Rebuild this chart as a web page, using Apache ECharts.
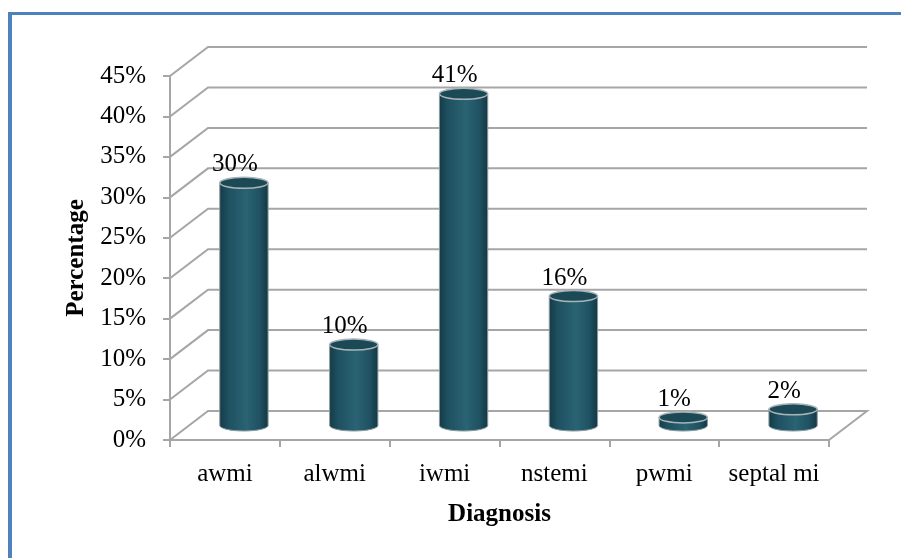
<!DOCTYPE html>
<html>
<head>
<meta charset="utf-8">
<script src="https://cdn.jsdelivr.net/npm/echarts@6/dist/echarts.min.js"></script>
<style>
  html, body { margin: 0; padding: 0; background: #ffffff; }
  #chart { width: 901px; height: 558px; }
</style>
</head>
<body>
<div id="chart"></div>
<script>
// Diagnosis breakdown (percent of patients)
const categories = ['awmi', 'alwmi', 'iwmi', 'nstemi', 'pwmi', 'septal mi'];
const percentages = [30, 10, 41, 16, 1, 2];
const yTicks = [0, 5, 10, 15, 20, 25, 30, 35, 40, 45];

// Pseudo-3D depth of the plot box (back wall offset from the front plane)
const DX = 38, DY = -29;
const FONT = '"Liberation Serif", "Times New Roman", serif';
const FONT_SIZE = 25;
const GRID_COLOR = '#a6a6a6';

const chart = echarts.init(document.getElementById('chart'), null, { renderer: 'canvas' });

// Side wall + back wall gridlines, plus the floor edge for 0
function renderWall(params, api) {
  const v = api.value(1);
  const cs = params.coordSys;
  const y = api.coord([0, v])[1];
  const x0 = cs.x, x1 = cs.x + cs.width;
  const pts = [[x0, y], [x0 + DX, y + DY], [x1 + DX, y + DY]];
  if (v === 0) pts.push([x1, y]);
  return {
    type: 'polyline',
    silent: true,
    shape: { points: pts },
    style: { stroke: GRID_COLOR, lineWidth: 2, fill: null }
  };
}

const bodyGradient = {
  type: 'linear', x: 0, y: 0, x2: 1, y2: 0,
  colorStops: [
    { offset: 0, color: '#143a46' },
    { offset: 0.18, color: '#1e5060' },
    { offset: 0.55, color: '#2a6373' },
    { offset: 0.82, color: '#1f5262' },
    { offset: 1, color: '#133642' }
  ]
};

// Cylinders sit halfway into the depth of the plot box
function renderCylinder(params, api) {
  const idx = api.value(0), v = api.value(1);
  const top = api.coord([idx, v]);
  const base = api.coord([idx, 0]);
  const bandW = api.size([1, 0])[0];
  const rx = bandW * 0.22, ry = 5.5;
  const cx = top[0] + DX / 2;
  const yT = top[1] + DY / 2, yB = base[1] + DY / 2;
  const body = 'M' + (cx - rx) + ',' + yT +
    ' L' + (cx - rx) + ',' + yB +
    ' A' + rx + ',' + ry + ' 0 0 0 ' + (cx + rx) + ',' + yB +
    ' L' + (cx + rx) + ',' + yT + ' Z';
  return {
    type: 'group',
    children: [
      { type: 'path', shape: { pathData: body },
        style: { fill: bodyGradient, stroke: '#8d9ba0', lineWidth: 1 } },
      { type: 'ellipse', shape: { cx: cx, cy: yT, rx: rx, ry: ry },
        style: { fill: '#1b4956', stroke: '#a9b4b8', lineWidth: 1.5 } },
      { type: 'text', x: cx - 9, y: yT - 18,
        style: { text: v + '%', fill: '#000', font: FONT_SIZE + 'px ' + FONT,
                 align: 'center', verticalAlign: 'middle' } }
    ]
  };
}

const option = {
  backgroundColor: '#ffffff',
  animation: false,
  grid: { left: 170, right: 72, top: 76, bottom: 118, containLabel: false },
  xAxis: {
    type: 'category',
    data: categories,
    axisLine: { show: true, lineStyle: { color: GRID_COLOR, width: 2 } },
    axisTick: { show: true, length: 7, lineStyle: { color: GRID_COLOR, width: 2 } },
    axisLabel: { interval: 0, color: '#000', fontFamily: FONT, fontSize: FONT_SIZE, margin: 22 },
    splitLine: { show: false },
    name: 'Diagnosis',
    nameLocation: 'middle',
    nameGap: 62,
    nameTextStyle: { color: '#000', fontFamily: FONT, fontSize: FONT_SIZE, fontWeight: 'bold' }
  },
  yAxis: {
    type: 'value',
    min: 0, max: 45, interval: 5,
    axisLine: { show: true, lineStyle: { color: GRID_COLOR, width: 2 } },
    axisTick: { show: true, length: 7, lineStyle: { color: GRID_COLOR, width: 2 } },
    axisLabel: { color: '#000', fontFamily: FONT, fontSize: FONT_SIZE, margin: 24, formatter: '{value}%' },
    splitLine: { show: false },
    name: 'Percentage',
    nameLocation: 'middle',
    nameRotate: 90,
    nameGap: 80,
    nameTextStyle: { color: '#000', fontFamily: FONT, fontSize: FONT_SIZE, fontWeight: 'bold' }
  },
  series: [
    {
      type: 'custom',
      name: 'walls',
      z: 1,
      silent: true,
      renderItem: renderWall,
      data: yTicks.map(function (v) { return [0, v]; })
    },
    {
      type: 'custom',
      name: 'Percentage',
      z: 3,
      renderItem: renderCylinder,
      data: percentages.map(function (v, i) { return [i, v]; })
    }
  ],
  graphic: [
    { type: 'rect', silent: true, shape: { x: 8, y: 12, width: 4, height: 546 }, style: { fill: '#4f81bd' } },
    { type: 'rect', silent: true, shape: { x: 8, y: 12, width: 893, height: 3 }, style: { fill: '#4f81bd' } }
  ]
};

chart.setOption(option);
</script>
</body>
</html>
